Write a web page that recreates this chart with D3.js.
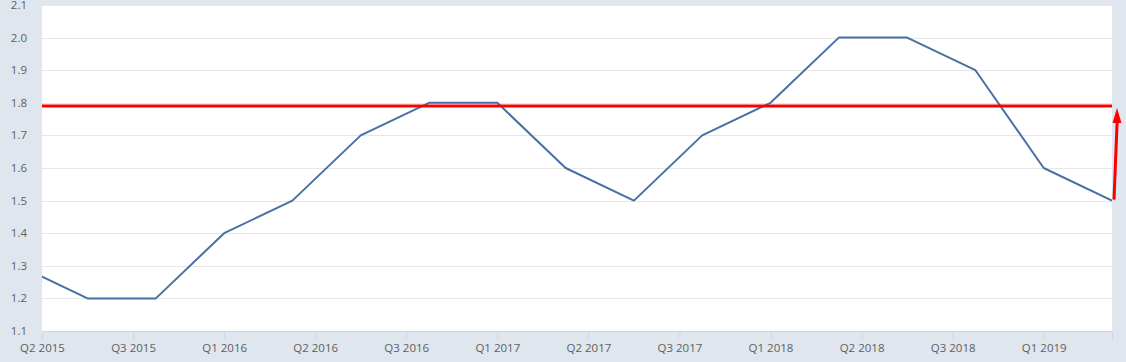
<!DOCTYPE html>
<html><head><meta charset="utf-8">
<script src="https://cdn.jsdelivr.net/npm/d3@7"></script>
<style>
html,body{margin:0;padding:0;background:#dfe6ee;}
svg{display:block;font-family:"Open Sans",sans-serif;}
</style></head>
<body><svg id="c" width="1126" height="362"></svg>
<script>
// Data (quarterly observations)
const periods = ["2015-04","2015-07","2015-10","2016-01","2016-04","2016-07","2016-10","2017-01","2017-04","2017-07","2017-10","2018-01","2018-04","2018-07","2018-10","2019-01","2019-04"];
const values  = [1.3,1.2,1.2,1.4,1.5,1.7,1.8,1.8,1.6,1.5,1.7,1.8,2.0,2.0,1.9,1.6,1.5];
const tickPeriods = ["2015-05","2015-09","2016-01","2016-05","2016-09","2017-01","2017-05","2017-09","2018-01","2018-05","2018-09","2019-01"];
const tickLabels  = ["Q2 2015","Q3 2015","Q1 2016","Q2 2016","Q3 2016","Q1 2017","Q2 2017","Q3 2017","Q1 2018","Q2 2018","Q3 2018","Q1 2019"];
const yTicks = [1.1,1.2,1.3,1.4,1.5,1.6,1.7,1.8,1.9,2.0,2.1];
const xStart = "2015-05", xEnd = "2019-04";
const refValue = 1.79;

const mi = s => { const [y,m] = s.split("-").map(Number); return y*12 + (m-1); };

const W = 1126, H = 362;
const m = {l:42, r:14, t:5, b:31};
const svg = d3.select("#c");
const pw = W - m.l - m.r, ph = H - m.t - m.b;

const x = d3.scaleLinear().domain([mi(xStart), mi(xEnd)]).range([m.l, m.l+pw]);
const y = d3.scaleLinear().domain([1.1, 2.1]).range([m.t+ph, m.t]);

svg.append("rect").attr("x",m.l).attr("y",m.t).attr("width",pw).attr("height",ph).attr("fill","#fff");

// gridlines
svg.append("g").selectAll("line").data(yTicks.slice(1)).join("line")
  .attr("x1",m.l).attr("x2",m.l+pw)
  .attr("y1",d=>Math.round(y(d))+0.5).attr("y2",d=>Math.round(y(d))+0.5)
  .attr("stroke","#e6e6e6").attr("stroke-width",1);

// y labels
svg.append("g").selectAll("text").data(yTicks).join("text")
  .attr("x",27).attr("y",d=>y(d)+4)
  .attr("text-anchor","end").attr("font-size",11.5).attr("fill","#606060")
  .text(d=>d.toFixed(1));

// x axis
const xa = d3.axisBottom(x).tickValues(tickPeriods.map(mi))
  .tickFormat((d,i)=>tickLabels[i]).tickSize(8).tickPadding(5);
const gx = svg.append("g").attr("transform",`translate(0,${m.t+ph})`).call(xa);
gx.select(".domain").attr("stroke","#ccd6eb");
gx.selectAll(".tick line").attr("stroke","#ccd6eb");
gx.selectAll("text").attr("fill","#606060").attr("font-size",11.5).attr("font-family","'Open Sans',sans-serif");

// clip
svg.append("clipPath").attr("id","clip").append("rect")
  .attr("x",m.l).attr("y",0).attr("width",pw).attr("height",H);

const pts = periods.map((p,i)=>({t:mi(p), v:values[i]}));
svg.append("path").datum(pts).attr("clip-path","url(#clip)")
  .attr("d", d3.line().x(d=>x(d.t)).y(d=>y(d.v)))
  .attr("fill","none").attr("stroke","#4a6fa5").attr("stroke-width",2).attr("stroke-linejoin","round");

// reference line
svg.append("line").attr("x1",m.l).attr("x2",m.l+pw)
  .attr("y1",y(refValue)).attr("y2",y(refValue))
  .attr("stroke","#ff0000").attr("stroke-width",3);

// arrow
const last = pts[pts.length-1];
const ax0 = x(last.t)+2, ay0 = y(last.v)-1, ax1 = x(last.t)+5, ay1 = y(refValue)+2;
svg.append("line").attr("x1",ax0).attr("y1",ay0).attr("x2",ax1+0.2).attr("y2",ay1+12)
  .attr("stroke","#ff0000").attr("stroke-width",3);
svg.append("path").attr("d",`M${ax1},${ay1} L${ax1-4.5},${ay1+15} L${ax1+4.5},${ay1+15} Z`)
  .attr("fill","#ff0000");
</script></body></html>
